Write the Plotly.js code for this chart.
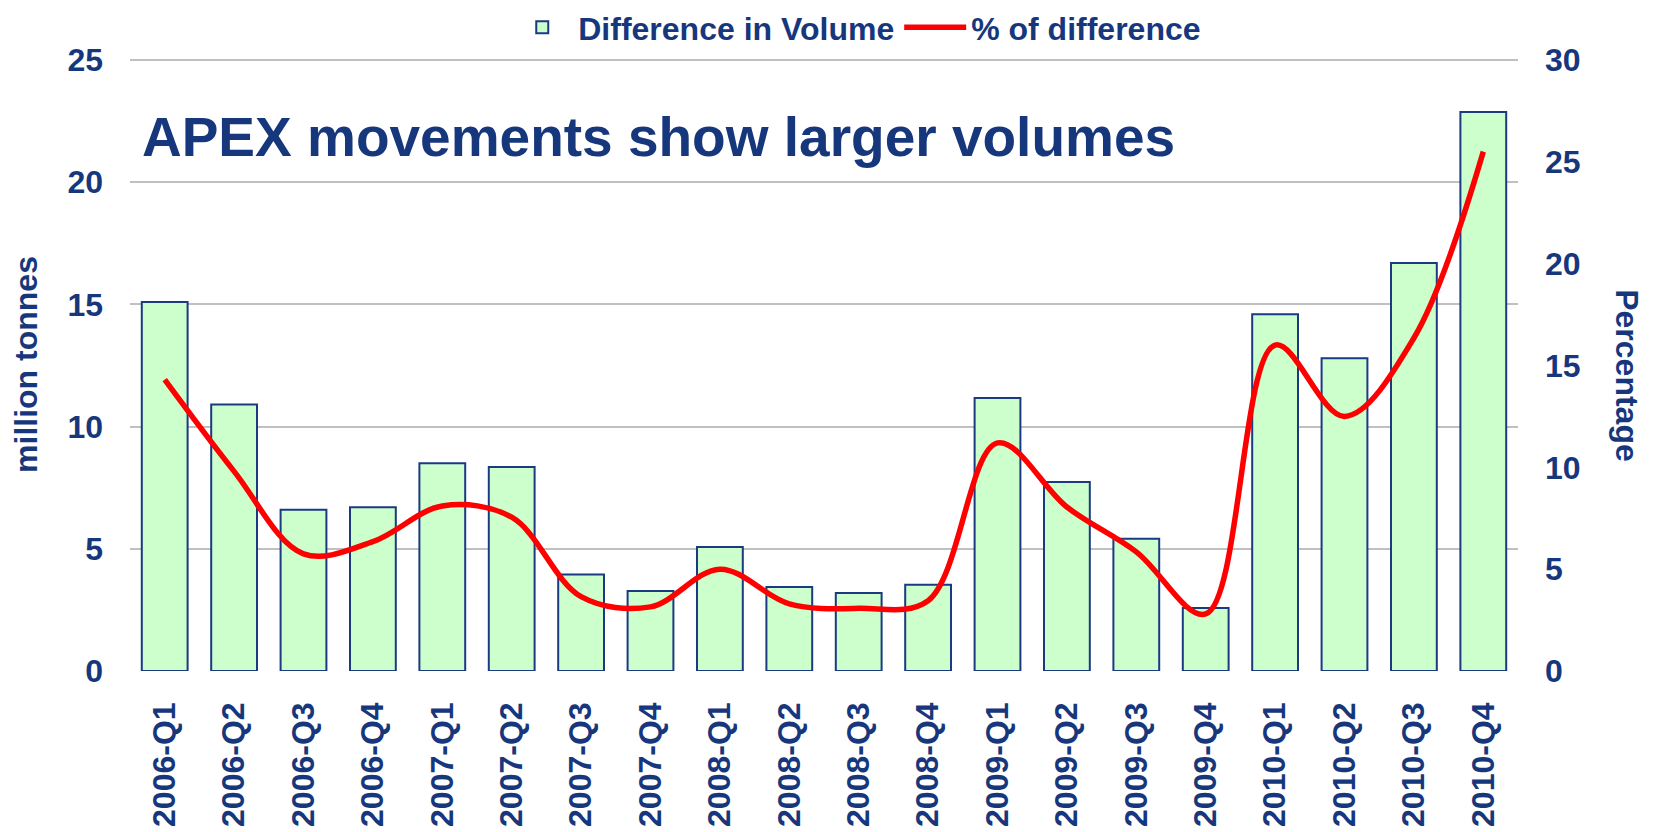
<!DOCTYPE html>
<html>
<head>
<meta charset="utf-8">
<script src="https://cdn.plot.ly/plotly-3.0.1.min.js"></script>
<style>html,body{margin:0;padding:0;background:#fff;}#chart{width:1653px;height:832px;}</style>
</head>
<body>
<div id="chart"></div>
<script>
const categories = ["2006-Q1","2006-Q2","2006-Q3","2006-Q4","2007-Q1","2007-Q2","2007-Q3","2007-Q4",
  "2008-Q1","2008-Q2","2008-Q3","2008-Q4","2009-Q1","2009-Q2","2009-Q3","2009-Q4",
  "2010-Q1","2010-Q2","2010-Q3","2010-Q4"];
const volumeDiff = [15.1, 10.9, 6.6, 6.7, 8.5, 8.35, 3.95, 3.27, 5.07, 3.44, 3.19, 3.53,
  11.17, 7.73, 5.41, 2.58, 14.6, 12.8, 16.69, 22.87];
const pctDiff = [14.3, 9.8, 5.75, 6.35, 8.1, 7.55, 3.65, 3.15, 5.0, 3.3, 3.08, 3.45,
  11.2, 8.05, 5.85, 2.8, 16.0, 12.5, 16.35, 25.5];
const leftTicks = [0, 5, 10, 15, 20, 25];
const rightTicks = [0, 5, 10, 15, 20, 25, 30];

const navy = "#17377d";
const fontFam = "Liberation Sans, Arial, sans-serif";

const traces = [
  {
    type: "bar", name: "Difference in Volume", x: categories, y: volumeDiff,
    marker: {color: "#ccffcc", line: {color: "#1a3a82", width: 2}},
    yaxis: "y"
  },
  {
    type: "scatter", mode: "lines", name: "% of difference", x: categories, y: pctDiff,
    line: {color: "#ff0000", width: 5.5, shape: "spline", smoothing: 1},
    yaxis: "y2"
  }
];

const layout = {
  width: 1653, height: 832,
  margin: {l: 130, r: 135, t: 58, b: 161, autoexpand: false},
  paper_bgcolor: "#ffffff", plot_bgcolor: "#ffffff",
  font: {family: fontFam, color: navy, size: 32, weight: "bold"},
  bargap: 0.34,
  showlegend: true,
  legend: {orientation: "h", xref: "container", x: 0.518, xanchor: "center",
           yref: "container", y: 1.0, yanchor: "top", itemwidth: 62,
           font: {family: fontFam, size: 32, color: navy, weight: "bold"}},
  title: {text: "<b>APEX movements show larger volumes</b>", x: 0.0086, xref: "paper", xanchor: "left",
          y: 0.872, yref: "paper", yanchor: "middle",
          font: {family: fontFam, size: 55, color: navy, weight: "bold"}},
  xaxis: {type: "category", tickangle: -90, showgrid: false, zeroline: false, showline: false,
          ticks: "", ticklabelstandoff: 24,
          tickfont: {family: fontFam, size: 32, color: navy, weight: "bold"}},
  yaxis: {range: [0, 25.08], tickvals: leftTicks, showgrid: true, gridcolor: "#c0c0c0", gridwidth: 2,
          zeroline: false, showline: false, ticks: "", ticklabelstandoff: 26,
          tickfont: {family: fontFam, size: 32, color: navy, weight: "bold"},
          title: {text: "<b>million tonnes</b>", standoff: 20, font: {family: fontFam, size: 32, color: navy}}},
  yaxis2: {range: [0, 30.096], tickvals: rightTicks, overlaying: "y", side: "right", showgrid: false,
           zeroline: false, showline: false, ticks: "", ticklabelstandoff: 26,
           tickfont: {family: fontFam, size: 32, color: navy, weight: "bold"}},
  annotations: [
    {text: "<b>Percentage</b>", xref: "paper", yref: "paper", x: 1.0785, y: 0.481, textangle: 90,
     showarrow: false, xanchor: "center", yanchor: "middle",
     font: {family: fontFam, size: 32, color: navy}}
  ]
};

Plotly.newPlot("chart", traces, layout, {displayModeBar: false, staticPlot: true});
</script>
</body>
</html>
